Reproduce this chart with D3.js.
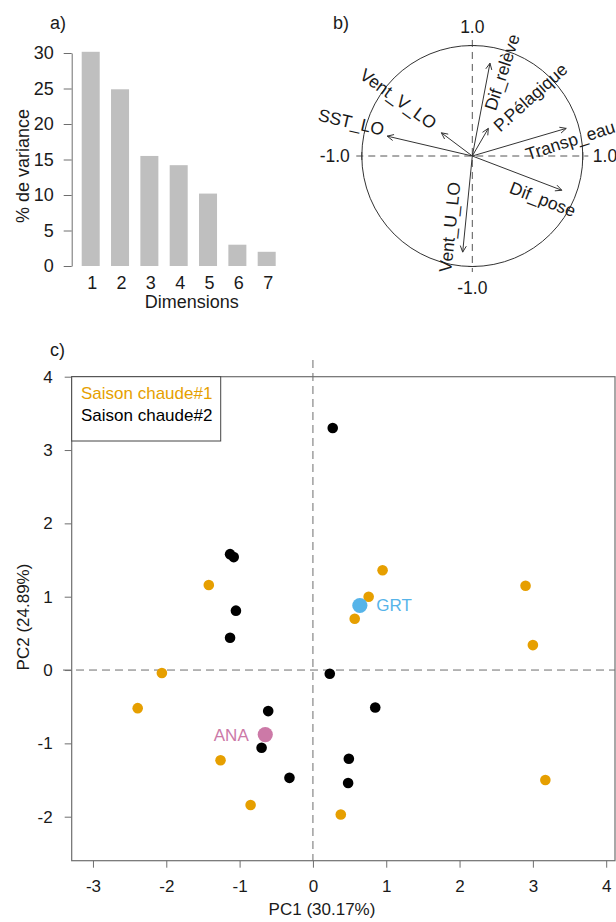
<!DOCTYPE html>
<html>
<head>
<meta charset="utf-8">
<script src="https://cdn.jsdelivr.net/npm/d3@7"></script>
<style>
  html, body { margin: 0; padding: 0; background: #fff; }
  svg { display: block; font-family: "Liberation Sans", Arial, sans-serif; }
</style>
</head>
<body>
<script>
// ---------- DATA ----------
// a) scree plot
const dimensions = ["1", "2", "3", "4", "5", "6", "7"];
const variancePct = [30.17, 24.89, 15.5, 14.2, 10.2, 3.0, 2.0];
const varianceTicks = [0, 5, 10, 15, 20, 25, 30];

// b) correlation circle
const varNames = ["SST_LO", "Vent_V_LO", "Dif_relève", "P.Pélagique", "Transp_eau", "Dif_pose", "Vent_U_LO"];
const varPC1 = [-0.77, -0.28, 0.16, 0.145, 0.85, 0.81, -0.087];
const varPC2 = [0.18, 0.21, 0.84, 0.25, 0.25, -0.31, -0.87];
const circleTicks = ["-1.0", "1.0"];

// c) individuals
const group1Name = "Saison chaude#1";
const group1PC1 = [-1.42, 0.95, 2.90, 0.76, 0.57, -2.06, -2.39, -1.26, -0.85, 3.00, 3.17, 0.38];
const group1PC2 = [1.16, 1.36, 1.15, 1.00, 0.70, -0.04, -0.52, -1.23, -1.84, 0.34, -1.50, -1.97];
const group2Name = "Saison chaude#2";
const group2PC1 = [0.27, -1.13, -1.08, -1.05, -1.13, 0.23, 0.85, -0.61, -0.70, -0.32, 0.49, 0.48];
const group2PC2 = [3.30, 1.58, 1.54, 0.81, 0.44, -0.05, -0.51, -0.56, -1.06, -1.47, -1.21, -1.54];
const siteNames = ["GRT", "ANA"];
const sitePC1 = [0.64, -0.65];
const sitePC2 = [0.88, -0.88];
const pc1Ticks = [-3, -2, -1, 0, 1, 2, 3, 4];
const pc2Ticks = [-2, -1, 0, 1, 2, 3, 4];
const pc1Label = "PC1 (30.17%)";
const pc2Label = "PC2 (24.89%)";

// ---------- LAYOUT / STYLE ----------
const W = 616, H = 922;
const TEXT = "#1a1a1a", AXIS = "#6e6e6e";
const ORANGE = "#E69F00", BLUE = "#56B4E9", PINK = "#CC79A7";
// label placement for the circle (offset from arrow tip in px, rotation in degrees)
const varLabelLayout = [
  {dx: -36, dy: -14, rot: 13},
  {dx: -43, dy: -34, rot: 36},
  {dx: 12, dy: 9, rot: -72},
  {dx: 42, dy: -31, rot: -42},
  {dx: 4, dy: 12, rot: -18},
  {dx: -19, dy: 9, rot: 21},
  {dx: -13, dy: -25, rot: -84}
];

const svg = d3.select("body").append("svg").attr("width", W).attr("height", H);

// ================= a) =================
(function () {
  const g = svg.append("g").style("font-size", "18px").attr("fill", TEXT);
  const x = d3.scaleBand().domain(dimensions).range([81.7, 275.7]).paddingInner(0.386).paddingOuter(0);
  const y = d3.scaleLinear().domain([0, 30]).range([266, 53]);

  g.selectAll("rect.bar").data(variancePct).join("rect")
    .attr("class", "bar")
    .attr("x", (d, i) => x(dimensions[i]))
    .attr("width", x.bandwidth())
    .attr("y", d => y(d))
    .attr("height", d => y(0) - y(d))
    .attr("fill", "#bfbfbf");

  const ax = g.append("g").attr("transform", "translate(71.7,0)")
    .call(d3.axisLeft(y).tickValues(varianceTicks).tickSize(8).tickSizeOuter(0).tickPadding(10));
  ax.selectAll("path, line").attr("stroke", AXIS);
  ax.selectAll("text").attr("fill", TEXT).style("font-size", "18px").style("font-family", "inherit");

  g.selectAll("text.dim").data(dimensions).join("text")
    .attr("class", "dim")
    .attr("x", d => x(d) + x.bandwidth() / 2 + 1.5)
    .attr("y", 289.3)
    .attr("text-anchor", "middle")
    .text(d => d);

  g.append("text").attr("x", 191.7).attr("y", 308).attr("text-anchor", "middle").text("Dimensions");
  g.append("text").attr("transform", "translate(29,166) rotate(-90)").attr("text-anchor", "middle").text("% de variance");
  g.append("text").attr("x", 50).attr("y", 29).text("a)");
})();

// ================= b) =================
(function () {
  const g = svg.append("g").style("font-size", "17.5px").attr("fill", TEXT);
  const cx = 472.3, cy = 156, r = 110.5;
  const x = d3.scaleLinear().domain([-1, 1]).range([cx - r, cx + r]);
  const y = d3.scaleLinear().domain([-1, 1]).range([cy + r, cy - r]);

  g.append("line").attr("x1", x(-1.05)).attr("x2", x(1.05)).attr("y1", y(0)).attr("y2", y(0))
    .attr("stroke", "#555").attr("stroke-dasharray", "7,5");
  g.append("line").attr("x1", x(0)).attr("x2", x(0)).attr("y1", y(1.05)).attr("y2", y(-1.05))
    .attr("stroke", "#555").attr("stroke-dasharray", "7,5");
  // tick marks at ±1
  [[-1, 0], [1, 0]].forEach(([a]) => {
    g.append("line").attr("x1", x(a)).attr("x2", x(a)).attr("y1", y(0) - 4).attr("y2", y(0) + 4).attr("stroke", "#555");
  });
  [-1, 1].forEach(b => {
    g.append("line").attr("x1", x(0) - 4).attr("x2", x(0) + 4).attr("y1", y(b)).attr("y2", y(b)).attr("stroke", "#555");
  });

  g.append("circle").attr("cx", x(0)).attr("cy", y(0)).attr("r", x(1) - x(0))
    .attr("fill", "none").attr("stroke", "#333").attr("stroke-width", 1);

  // tick labels
  g.append("text").attr("x", x(-1) - 12).attr("y", y(0)).attr("dy", "0.35em").attr("text-anchor", "end").text(circleTicks[0]);
  g.append("text").attr("x", x(1) + 10).attr("y", y(0)).attr("dy", "0.35em").attr("text-anchor", "start").text(circleTicks[1]);
  g.append("text").attr("x", x(0)).attr("y", y(1) - 13).attr("text-anchor", "middle").text(circleTicks[1]);
  g.append("text").attr("x", x(0)).attr("y", y(-1) + 27).attr("text-anchor", "middle").text(circleTicks[0]);

  // arrows
  varNames.forEach((name, i) => {
    const x1 = x(varPC1[i]), y1 = y(varPC2[i]);
    const x0 = x(0), y0 = y(0);
    const ang = Math.atan2(y1 - y0, x1 - x0);
    const hl = 7, ha = Math.PI / 7;
    g.append("line").attr("x1", x0).attr("y1", y0).attr("x2", x1).attr("y2", y1)
      .attr("stroke", "#333").attr("stroke-width", 1);
    g.append("path")
      .attr("d", `M${x1 - hl * Math.cos(ang - ha)},${y1 - hl * Math.sin(ang - ha)}L${x1},${y1}L${x1 - hl * Math.cos(ang + ha)},${y1 - hl * Math.sin(ang + ha)}`)
      .attr("fill", "none").attr("stroke", "#333").attr("stroke-width", 1);
    const L = varLabelLayout[i];
    g.append("text")
      .attr("transform", `translate(${x1 + L.dx},${y1 + L.dy}) rotate(${L.rot})`)
      .attr("text-anchor", "middle").attr("dy", "0.35em")
      .text(name);
  });

  svg.append("text").attr("x", 333).attr("y", 29).attr("fill", TEXT).style("font-size", "18px").text("b)");
})();

// ================= c) =================
(function () {
  const g = svg.append("g").style("font-size", "17px").attr("fill", TEXT);
  const left = 71.7, right = 615, top = 376.7, bottom = 860.7;
  const x = d3.scaleLinear().domain([-3.29, 4.12]).range([left, right]);
  const y = d3.scaleLinear().domain([-2.6, 4.0]).range([bottom, top]);

  // dashed reference lines
  g.append("line").attr("x1", 63).attr("x2", right).attr("y1", y(0)).attr("y2", y(0))
    .attr("stroke", "#6e6e6e").attr("stroke-dasharray", "8,5");
  g.append("line").attr("x1", x(0)).attr("x2", x(0)).attr("y1", 360).attr("y2", bottom)
    .attr("stroke", "#6e6e6e").attr("stroke-dasharray", "8,5");

  // axes
  const ax = g.append("g").attr("transform", `translate(0,${bottom})`)
    .call(d3.axisBottom(x).tickValues(pc1Ticks).tickSize(7).tickPadding(12).tickFormat(d3.format("d")));
  const ay = g.append("g").attr("transform", `translate(${left},0)`)
    .call(d3.axisLeft(y).tickValues(pc2Ticks).tickSize(7).tickPadding(12).tickFormat(d3.format("d")));
  [ax, ay].forEach(a => {
    a.select(".domain").remove();
    a.selectAll("line").attr("stroke", AXIS);
    a.selectAll("text").attr("fill", TEXT).style("font-size", "17px").style("font-family", "inherit");
  });
  ax.selectAll("text").text(d => d < 0 ? "-" + Math.abs(d) : d);
  ay.selectAll("text").text(d => d < 0 ? "-" + Math.abs(d) : d);

  // points
  const pts1 = group1PC1.map((v, i) => [v, group1PC2[i]]);
  const pts2 = group2PC1.map((v, i) => [v, group2PC2[i]]);
  g.selectAll("circle.g1").data(pts1).join("circle").attr("class", "g1")
    .attr("cx", d => x(d[0])).attr("cy", d => y(d[1])).attr("r", 5.3).attr("fill", ORANGE);
  g.selectAll("circle.g2").data(pts2).join("circle").attr("class", "g2")
    .attr("cx", d => x(d[0])).attr("cy", d => y(d[1])).attr("r", 5.3).attr("fill", "#000");

  const siteColors = [BLUE, PINK];
  siteNames.forEach((n, i) => {
    g.append("circle").attr("cx", x(sitePC1[i])).attr("cy", y(sitePC2[i])).attr("r", 7.6).attr("fill", siteColors[i]);
    g.append("text")
      .attr("x", x(sitePC1[i]) + (i === 0 ? 16.5 : -16.5))
      .attr("y", y(sitePC2[i])).attr("dy", "0.35em")
      .attr("text-anchor", i === 0 ? "start" : "end")
      .attr("fill", siteColors[i]).text(n);
  });

  // frame
  g.append("rect").attr("x", left).attr("y", top).attr("width", right - left).attr("height", bottom - top)
    .attr("fill", "none").attr("stroke", AXIS).attr("stroke-width", 1.2);

  // legend
  g.append("rect").attr("x", left).attr("y", top).attr("width", 149).attr("height", 64.3)
    .attr("fill", "#fff").attr("stroke", "#444").attr("stroke-width", 1);
  g.append("text").attr("x", 81).attr("y", 399.3).attr("fill", ORANGE).text(group1Name);
  g.append("text").attr("x", 81).attr("y", 420.7).attr("fill", "#000").text(group2Name);

  g.append("text").attr("x", 322).attr("y", 915).attr("text-anchor", "middle").text(pc1Label);
  g.append("text").attr("transform", "translate(29,617) rotate(-90)").attr("text-anchor", "middle").text(pc2Label);
  g.append("text").attr("x", 50).attr("y", 356).style("font-size", "18px").text("c)");
})();
</script>
</body>
</html>
